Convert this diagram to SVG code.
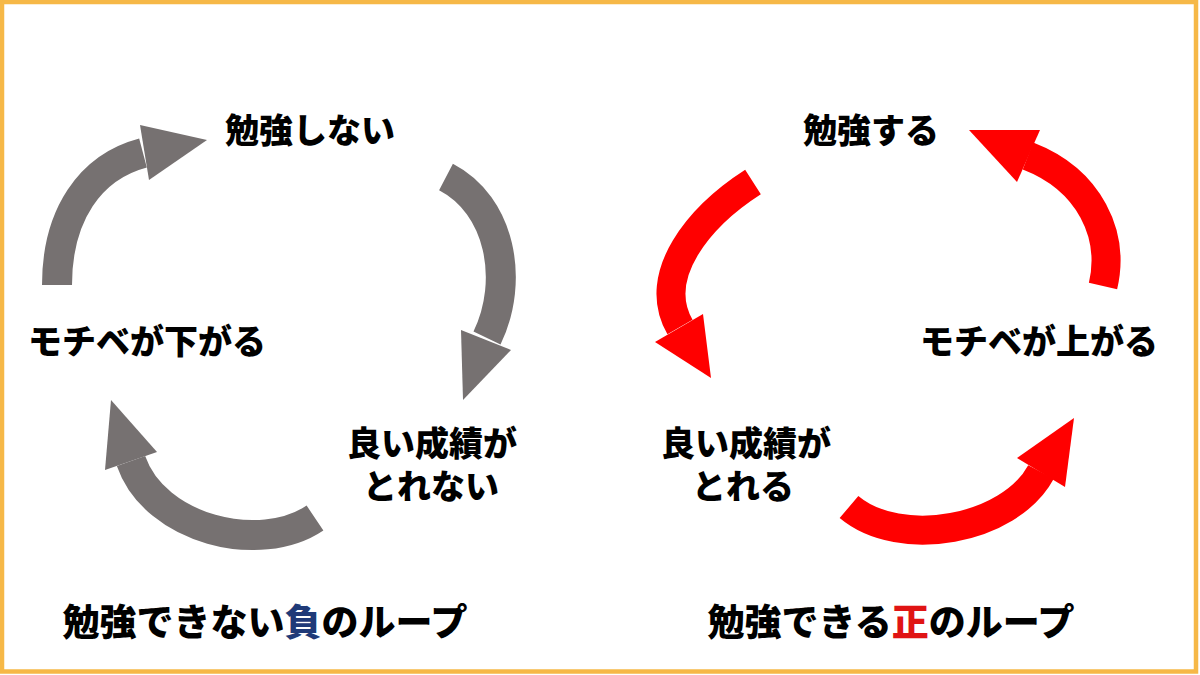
<svg xmlns="http://www.w3.org/2000/svg" width="1200" height="675" viewBox="0 0 1200 675">
<style>
.lbl{font-family:"Noto Sans CJK JP","Noto Sans",sans-serif;font-weight:900;font-size:34px;fill:#000;text-anchor:middle}
.ttl{font-family:"Noto Sans CJK JP","Noto Sans",sans-serif;font-weight:900;font-size:37px;fill:#000;text-anchor:middle}
.gs{fill:none;stroke:#767171;stroke-width:30}
.gh{fill:#767171}
.rs{fill:none;stroke:#FF0000;stroke-width:29}
.rh{fill:#FF0000}
</style>
<rect x="0" y="0" width="1200" height="675" fill="#FFFFFF"/>
<rect x="2" y="2" width="1194" height="669.5" fill="none" stroke="#F6B847" stroke-width="4.5"/>
<g id="connectors">
  <g id="neg-arrow-1">
    <path class="gs" d="M57,285 C57,215 90,167 143,153"/>
    <polygon class="gh" points="140,125 207,140 149,180"/>
  </g>
  <g id="neg-arrow-2">
    <path class="gs" d="M446,177 C500,205 515,280 487,338"/>
    <polygon class="gh" points="461,330 511,350 463,400"/>
  </g>
  <g id="neg-arrow-3">
    <path class="gs" d="M315,518 C260,555 155,530 131,461"/>
    <polygon class="gh" points="157,452 105,470 111,400"/>
  </g>
  <g id="pos-arrow-1">
    <path class="rs" d="M753,182 C700,216 650,275 680,327"/>
    <polygon class="rh" points="655,342 703,314 711,378"/>
  </g>
  <g id="pos-arrow-2">
    <path class="rs" d="M849,507 C900,550 1010,530 1041,472"/>
    <polygon class="rh" points="1017,458 1065,487 1074,418"/>
  </g>
  <g id="pos-arrow-3">
    <path class="rs" d="M1103,286 C1115,235 1090,180 1028,156"/>
    <polygon class="rh" points="1040,130 1017,182 969,130"/>
  </g>
</g>
<g id="neg-study-not"><text class="lbl" x="310" y="143">勉強しない</text></g>
<g id="neg-grades"><text class="lbl" x="432" y="456">良い成績が</text><text class="lbl" x="431" y="499">とれない</text></g>
<g id="neg-motivation"><text class="lbl" x="147" y="354">モチベが下がる</text></g>
<g id="neg-title"><text class="ttl" x="265" y="636">勉強できない<tspan fill="#1F3A78">負</tspan>のループ</text></g>
<g id="pos-study"><text class="lbl" x="871" y="143">勉強する</text></g>
<g id="pos-grades"><text class="lbl" x="746" y="456">良い成績が</text><text class="lbl" x="743" y="499">とれる</text></g>
<g id="pos-motivation"><text class="lbl" x="1039" y="354">モチベが上がる</text></g>
<g id="pos-title"><text class="ttl" x="891" y="636">勉強できる<tspan fill="#E01414">正</tspan>のループ</text></g>
</svg>
